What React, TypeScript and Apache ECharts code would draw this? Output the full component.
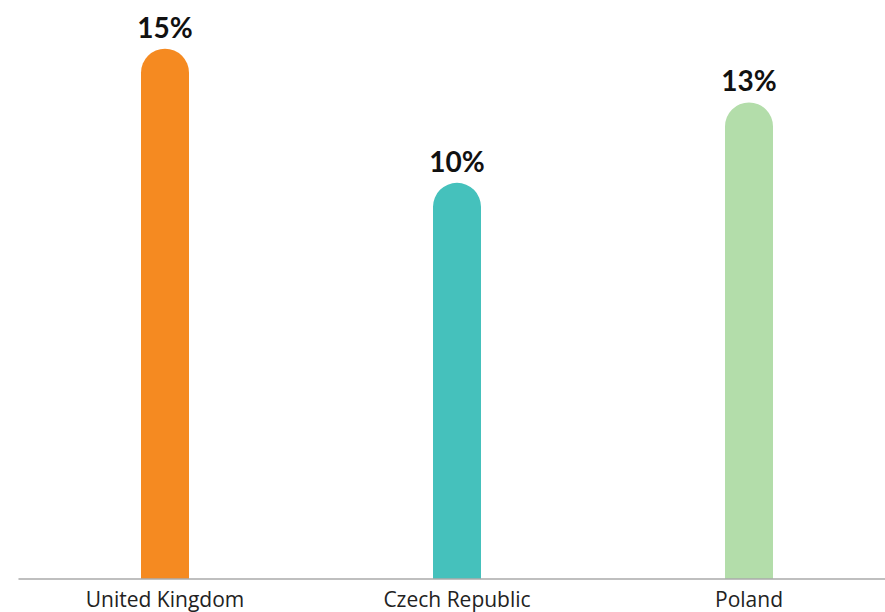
import React, { useEffect, useRef } from "react";
import * as echarts from "echarts";

const categories = ["United Kingdom", "Czech Republic", "Poland"];
const values = [15, 10, 13];
const colors = ["#F58A21", "#45C1BC", "#B3DDAA"];
const Y_MIN = -4.78;
const Y_MAX = 16.82;

export default function App() {
  const ref = useRef<HTMLDivElement>(null);
  useEffect(() => {
    if (!ref.current) return;
    const chart = echarts.init(ref.current, undefined, { renderer: "svg" });
    chart.setOption({
      animation: false,
      grid: { left: 19, top: 0, right: 0, bottom: 33, containLabel: false },
      xAxis: {
        type: "category",
        data: categories,
        axisLine: { show: true, onZero: false, lineStyle: { color: "#aaaaaa", width: 1.5 } },
        axisTick: { show: false },
        axisLabel: {
          color: "#222222",
          fontSize: 21,
          fontFamily: "Open Sans",
          margin: 9,
        },
        z: 5,
      },
      yAxis: {
        type: "value",
        min: Y_MIN,
        max: Y_MAX,
        show: false,
        splitLine: { show: false },
      },
      series: [
        {
          type: "custom",
          data: values.map((v, i) => [i, v]),
          renderItem: (params: any, api: any) => {
            const xi = api.value(0);
            const v = api.value(1);
            const top = api.coord([xi, v]);
            const base = api.coord([xi, Y_MIN]);
            const w = 48;
            return {
              type: "group",
              children: [
                {
                  type: "rect",
                  shape: {
                    x: top[0] - w / 2,
                    y: top[1],
                    width: w,
                    height: base[1] - top[1],
                    r: [w / 2, w / 2, 0, 0],
                  },
                  style: { fill: colors[params.dataIndex] },
                },
                {
                  type: "text",
                  style: {
                    text: v + "%",
                    x: top[0],
                    y: top[1] - 8,
                    align: "center",
                    verticalAlign: "bottom",
                    fill: "#111111",
                    fontSize: 28,
                    fontWeight: "bold",
                    fontFamily: "Lato",
                  },
                },
              ],
            };
          },
        },
      ],
    });
    return () => chart.dispose();
  }, []);
  return (
    <div style={{ position: "fixed", left: 0, top: 0, width: 885, height: 612, overflow: "hidden", background: "#ffffff" }}>
      <div ref={ref} style={{ position: "absolute", left: 0, top: 0, width: 895, height: 612 }} />
    </div>
  );
}
